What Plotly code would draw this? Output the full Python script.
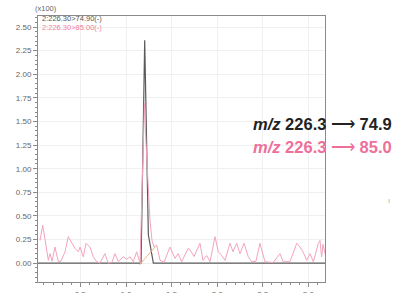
import plotly.graph_objects as go

# Pink trace: m/z 226.3 -> 85.0 (intensity x100)
pink_x = [0.057, 0.087, 0.112, 0.148, 0.167, 0.189, 0.221, 0.258, 0.287, 0.331,
          0.367, 0.405, 0.441, 0.477, 0.496, 0.532, 0.561, 0.605, 0.641, 0.679,
          0.715, 0.768, 0.806, 0.846, 0.879, 0.916, 0.970, 1.008, 1.044, 1.080,
          1.117, 1.154, 1.175, 1.202, 1.218, 1.240, 1.263, 1.285, 1.307, 1.337,
          1.373, 1.417, 1.482, 1.537, 1.570, 1.611, 1.680, 1.702, 1.746, 1.811,
          1.844, 1.885, 1.921, 1.976, 2.012, 2.049, 2.086, 2.140, 2.173, 2.214,
          2.250, 2.294, 2.341, 2.378, 2.425, 2.469, 2.524, 2.612, 2.689, 2.722,
          2.798, 2.872, 2.908, 2.941, 2.981, 3.018, 3.054, 3.109, 3.127, 3.145,
          3.160, 3.182]
pink_y = [0.24, 0.40, 0.25, 0.03, 0.10, 0.02, 0.17, 0.015, 0.02, 0.12,
          0.28, 0.21, 0.155, 0.12, 0.17, 0.067, 0.21, 0.17, 0.067, 0.015,
          0.0, 0.10, 0.0, 0.01, 0.10, 0.015, 0.067, 0.04, 0.067, 0.015,
          0.12, 0.0, 0.80, 1.69, 1.30, 0.90, 0.45, 0.24, 0.17, 0.19,
          0.03, 0.01, 0.17, 0.05, 0.10, 0.015, 0.155, 0.14, 0.07, 0.21,
          0.03, 0.08, 0.015, 0.28, 0.12, 0.08, 0.03, 0.21, 0.12, 0.21,
          0.10, 0.21, 0.067, 0.015, 0.02, 0.21, 0.015, 0.005, 0.10, 0.015,
          0.015, 0.21, 0.17, 0.12, 0.03, 0.10, 0.015, 0.21, 0.24, 0.067,
          0.20, 0.10]

# Black trace: m/z 226.3 -> 74.9
black_x = [0.035, 1.165, 1.205, 1.245, 1.300, 3.182]
black_y = [0.0, 0.0, 2.36, 0.30, 0.0, 0.0]

# Baseline integration marker
base_x = [1.146, 1.318]
base_y = [-0.02, 0.17]

y_ticks = [0.0, 0.25, 0.5, 0.75, 1.0, 1.25, 1.5, 1.75, 2.0, 2.25, 2.5]
x_ticks = [0.5, 1.0, 1.5, 2.0, 2.5, 3.0]

fig = go.Figure()
fig.add_trace(go.Scatter(x=black_x, y=black_y, mode="lines",
                         line=dict(color="#5a5a5a", width=1.2)))
fig.add_trace(go.Scatter(x=pink_x, y=pink_y, mode="lines",
                         line=dict(color="#f4a3bb", width=1)))
fig.add_trace(go.Scatter(x=base_x, y=base_y, mode="lines",
                         line=dict(color="#f5b080", width=1)))

axis_common = dict(showline=True, linecolor="#8a8a8a", linewidth=1, mirror=True,
                   ticks="outside", ticklen=4, tickcolor="#8a8a8a", automargin=False,
                   showgrid=True, gridcolor="#f0f0f0", zeroline=False,
                   tickfont=dict(family="Liberation Sans, Arial", size=8, color="#666"))

fig.update_layout(
    width=403, height=293,
    margin=dict(l=38, r=78, t=16, b=11),
    paper_bgcolor="white", plot_bgcolor="white",
    showlegend=False,
    xaxis=dict(range=[0.035, 3.182], tickvals=x_ticks,
               ticktext=["0.5", "1.0", "1.5", "2.0", "2.5", "3.0"],
               minor=dict(dtick=0.1, ticks="outside", ticklen=2, tickcolor="#8a8a8a", showgrid=False),
               **axis_common),
    yaxis=dict(range=[-0.20, 2.617], tickvals=y_ticks, tickformat=".2f",
               minor=dict(dtick=0.05, tick0=0, ticks="outside", ticklen=2, tickcolor="#8a8a8a", showgrid=False),
               **axis_common),
    font=dict(family="Liberation Sans, Arial"),
)

small = dict(family="Liberation Sans, Arial", size=7.5)
fig.add_annotation(xref="paper", yref="paper", x=-0.017, y=1.03, xanchor="left", yanchor="middle",
                   text="(x100)", showarrow=False, font=dict(small, color="#666"))
fig.add_annotation(xref="paper", yref="paper", x=0.007, y=0.989, xanchor="left", yanchor="middle",
                   text="2:226.30>74.90(-)", showarrow=False, font=dict(small, color="#555"))
fig.add_annotation(xref="paper", yref="paper", x=0.007, y=0.955, xanchor="left", yanchor="middle",
                   text="2:226.30>85.00(-)", showarrow=False, font=dict(small, color="#f07ca0"))

big = dict(family="Liberation Sans, Arial", size=16.5)
fig.add_annotation(xref="paper", yref="paper", x=0.742, y=0.594, xanchor="left", yanchor="middle",
                   text="<b><i>m/z</i> 226.3 </b>⟶<b> 74.9</b>", showarrow=False,
                   font=dict(big, color="#222"))
fig.add_annotation(xref="paper", yref="paper", x=0.742, y=0.508, xanchor="left", yanchor="middle",
                   text="<b><i>m/z</i> 226.3 </b>⟶<b> 85.0</b>", showarrow=False,
                   font=dict(big, color="#ee6f9a"))
fig.add_annotation(xref="paper", yref="paper", x=1.223, y=0.308, xanchor="center", yanchor="middle",
                   text="ı", showarrow=False, font=dict(family="Liberation Sans", size=8, color="#aaa"))

fig.write_html("out.html", config={"displayModeBar": False},
               post_script="document.body.style.margin='0';document.body.style.overflow='hidden';")
